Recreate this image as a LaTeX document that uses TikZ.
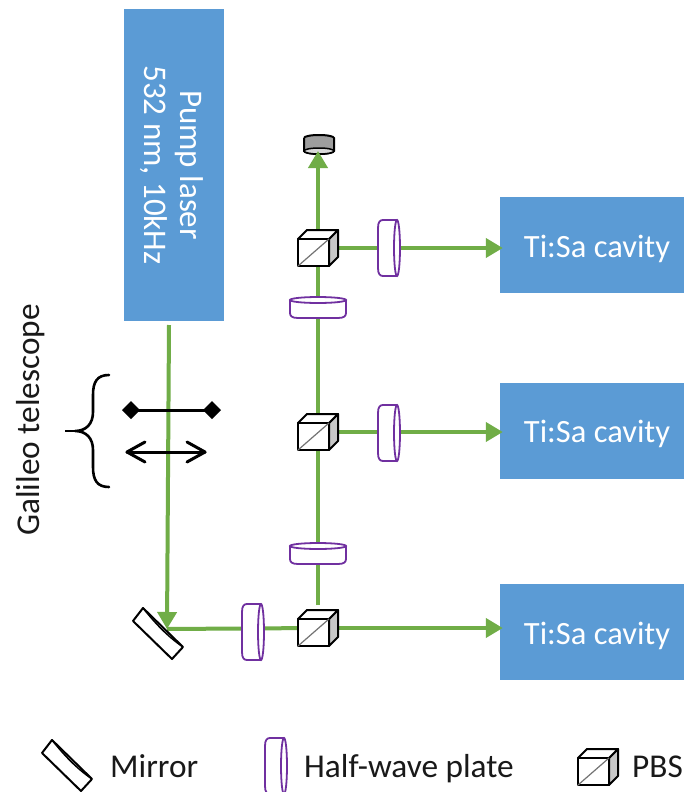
\documentclass[tikz,border=0pt]{standalone}
\usepackage{fontspec}
\setmainfont{Carlito}
\usetikzlibrary{arrows.meta}
\definecolor{boxblue}{HTML}{5B9BD5}
\definecolor{beamgreen}{HTML}{70AD47}
\definecolor{platepurple}{HTML}{7030A0}
\tikzset{
  x=1pt,y=-1pt,
  boxnode/.style={fill=boxblue,inner sep=0pt},
  cavitybox/.style={boxnode,minimum width=186pt,minimum height=96pt},
  cavitytext/.style={inner sep=0pt,anchor=base,text=white,font=\fontsize{32.5}{36}\selectfont},
  labeltext/.style={inner sep=0pt,font=\fontsize{33.3}{36}\selectfont,text=black!90},
  beam/.style={draw=beamgreen,line width=4pt},
  beamarrow/.style={beam,-{Triangle[length=17pt,width=19pt]}},
  pbs/.pic={
    \draw[black,line width=2pt,line join=round,fill=black!22] (11,-9)--(20,-18)--(20,9)--(11,18)--cycle;
    \draw[black,line width=2pt,line join=round,fill=white] (-20,-9)--(-11,-18)--(20,-18)--(11,-9)--cycle;
    \draw[black,line width=2pt,line join=round,fill=white] (-20,-9) rectangle (11,18);
    \draw[black!55,line width=1.2pt] (-20,18)--(11,-9);
  },
  vplate/.pic={
    \draw[platepurple,line width=1.8pt,fill=white] (8,-28)--(-6,-28) .. controls (-9,-28) and (-11,-26) .. (-11,-20)--(-11,20) .. controls (-11,26) and (-9,28) .. (-6,28)--(8,28);
    \draw[platepurple,line width=1.8pt,fill=white] (8,0) ellipse [x radius=3,y radius=28];
  },
  hplate/.pic={
    \draw[platepurple,line width=1.8pt,fill=white] (-28,-7)--(-28,6) .. controls (-28,9) and (-26,11) .. (-20,11)--(20,11) .. controls (26,11) and (28,9) .. (28,6)--(28,-7);
    \draw[platepurple,line width=1.8pt,fill=white] (0,-7) ellipse [x radius=28,y radius=3];
  },
  mirrorpic/.pic={
    \draw[black,line width=2pt,line join=round,fill=white] (-15,-26)--(-25,-13)--(14,25)--(25,13)--cycle;
    \draw[black,line width=1.5pt] (-15,-26) .. controls (-3,-11) and (9,2) .. (25,13);
  }
}
\begin{document}
\begin{tikzpicture}
\useasboundingbox (0,0) rectangle (684,792);
\clip (0,0) rectangle (684,792);
\fill[white] (0,0) rectangle (684,792);
% coordinates
\coordinate (laserout) at (169,325);
\coordinate (mirrorc) at (158,634);
\coordinate (mirrorhit) at (167,629);
\coordinate (hwpA) at (253,632);
\coordinate (pbsA) at (318,628);
\coordinate (hwpH1) at (318,553);
\coordinate (pbsB) at (318,432);
\coordinate (hwpH2) at (318,307);
\coordinate (pbsC) at (318,248);
\coordinate (hwpB) at (389,433);
\coordinate (hwpC) at (389,248);
\coordinate (beamA) at (318,605);
\coordinate (detector) at (318,151);
% boxes
\node[boxnode,minimum width=100pt,minimum height=312pt] (laser) at (174,165) {};
\node[text=white,inner sep=0pt,rotate=-90,align=center,font=\fontsize{33}{36}\selectfont] (lasertext) at (172,165) {Pump laser\\532 nm, 10kHz};
\node[cavitybox] (cavC) at (593,245) {};
\node[cavitybox] (cavB) at (593,431) {};
\node[cavitybox] (cavA) at (593,632) {};
\node[cavitytext] (tc) at (597,257) {Ti:Sa cavity};
\node[cavitytext] (tb) at (597,442) {Ti:Sa cavity};
\node[cavitytext] (ta) at (597,644) {Ti:Sa cavity};
% detector
\draw[black,line width=2pt,fill=black!38] (304,138)--(304,151) arc[start angle=180,end angle=0,x radius=15,y radius=3]--(334,138) arc[start angle=0,end angle=-180,x radius=15,y radius=3];
\draw[black,line width=1.5pt,fill=black!15] (319,151) ellipse [x radius=15,y radius=3];
% beams
\draw[beam] (mirrorhit)--(pbsA);
\draw[beamarrow] (pbsA)--([xshift=3pt]pbsA -| cavA.west);
\draw[beam] (beamA)--(pbsB);
\draw[beam] (pbsB)--(pbsC);
\draw[beamarrow] (pbsB)--([xshift=3pt]pbsB -| cavB.west);
\draw[beamarrow] (pbsC)--([xshift=3pt]pbsC -| cavC.west);
% optics
\pic at (hwpA) {vplate};
\pic at (pbsA) {pbs};
\pic at (hwpH1) {hplate};
\pic at (pbsB) {pbs};
\pic at (hwpB) {vplate};
\pic at (hwpH2) {hplate};
\pic at (hwpC) {vplate};
\pic at (mirrorc) {mirrorpic};
\draw[beamarrow] (laserout)--(mirrorhit);
\draw[beamarrow] (pbsC)--(detector);
\pic at (pbsC) {pbs};
% telescope lenses
\coordinate (lensL) at (131,410);
\coordinate (lensR) at (212,410);
\coordinate (concL) at (127,452);
\coordinate (concR) at (205,452);
\draw[black,line width=3pt] (lensL)--(lensR);
\fill[black] (122,410)--(131,401)--(140,410)--(131,419)--cycle;
\fill[black] (203,410)--(212,401)--(221,410)--(212,419)--cycle;
\draw[black,line width=3pt,line cap=round,line join=round] (concL)--(concR);
\draw[black,line width=3pt,line cap=round,line join=round] (145,442)--(127,452)--(145,462);
\draw[black,line width=3pt,line cap=round,line join=round] (187,442)--(205,452)--(187,462);
% brace
\draw[black,line width=2.6pt,line cap=round] (109,375) .. controls (97,375) and (93,382) .. (93,395) -- (93,412) .. controls (93,424) and (86,431) .. (75,431) .. controls (86,431) and (93,438) .. (93,450) -- (93,467) .. controls (93,480) and (97,487) .. (109,487);
\draw[black,line width=1.4pt] (65,431)--(78,431);
\node[labeltext,rotate=90] (galileo) at (31,420) {Galileo telescope};
% legend
\pic at (67,766) {mirrorpic};
\pic at (276,766) {vplate};
\pic at (598,767) {pbs};
\node[labeltext,anchor=base west] (lblm) at (110,777) {Mirror};
\node[labeltext,anchor=base west] (lblh) at (304,777) {Half-wave plate};
\node[labeltext,anchor=base west] (lblp) at (632,777) {PBS};
\end{tikzpicture}
\end{document}
